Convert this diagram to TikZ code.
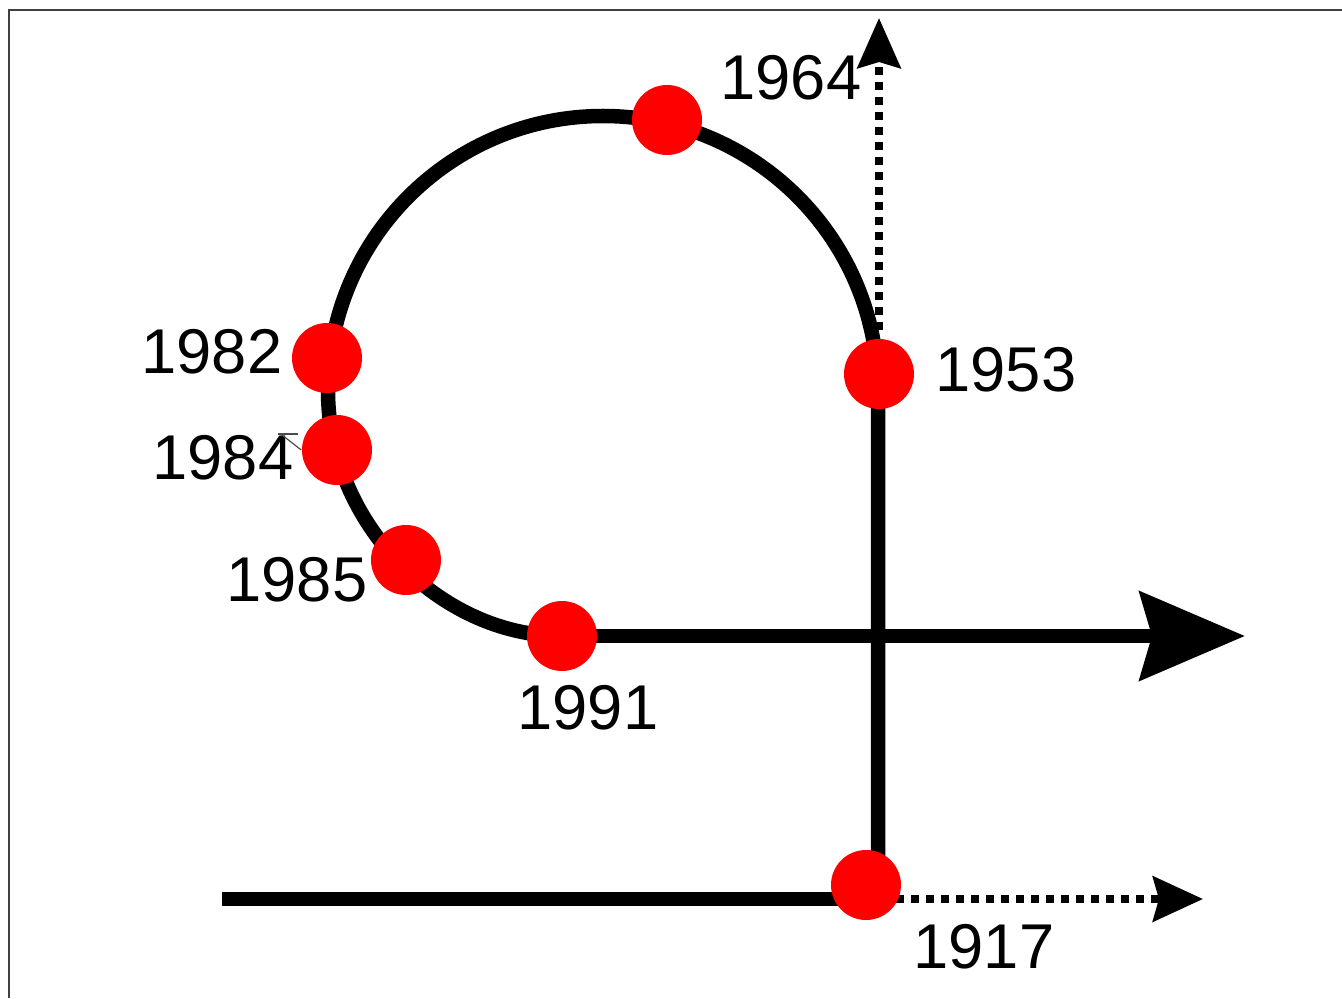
\documentclass[tikz,border=0pt]{standalone}
\usepackage{fontspec}
\setmainfont{Liberation Sans}
\usetikzlibrary{calc, positioning}
\usetikzlibrary{arrows.meta}

\tikzset{
  track/.style={line width=0.145cm},
  dotline/.style={line width=0.08cm, dash pattern=on 0.08cm off 0.07cm},
  dot/.style={circle, fill=red, minimum size=0.7cm, inner sep=0pt},
  year/.style={inner sep=0pt, font=\fontsize{18pt}{20pt}\selectfont},
}

\begin{document}
\begin{tikzpicture}
\useasboundingbox (0,0) rectangle (13.42,9.98);
\draw[black!75, line width=0.02cm] (0.09,0) -- (0.09,9.88) -- (13.42,9.88);

% positions of the years
\coordinate (p1917) at (8.66,1.13);
\coordinate (p1953) at (8.79,6.24);
\coordinate (p1964) at (6.67,8.78);
\coordinate (p1982) at (3.27,6.40);
\coordinate (p1984) at (3.37,5.48);
\coordinate (p1985) at (4.06,4.38);
\coordinate (p1991) at (5.62,3.62);
\coordinate (endmain) at (12.45,3.62);
\coordinate (endlow) at (12.03,0.99);
\coordinate (endup) at (8.79,9.80);
\coordinate (startlow) at (2.22,0.99);

% the loop
\draw[track] (8.78,1.13) -- (8.78,6.07) arc[start angle=0, end angle=180, radius=2.75]
  .. controls (3.28,4.75) and (4.40,3.62) .. (p1991);
\draw[track, -{Stealth[length=1.05cm, width=0.88cm, inset=0.12cm]}] (p1991) -- (endmain);
\draw[track] (startlow) -- (p1917 |- startlow);
\draw[dotline, -{Stealth[length=0.5cm, width=0.45cm, inset=0.06cm]}] (p1917 |- startlow) -- (endlow);
\draw[dotline, -{Stealth[length=0.5cm, width=0.43cm, inset=0.06cm]}] (8.79,6.68) -- (endup);

\foreach \yr in {1917,1953,1964,1982,1984,1985,1991} {
  \node[dot] (d\yr) at (p\yr) {};
}

\node[year] (l1917) at (9.84,0.51) {1917};
\node[year] (l1953) at (10.06,6.28) {1953};
\node[year] (l1964) at (7.91,9.20) {1964};
\node[year] (l1982) at (2.12,6.46) {1982};
\node[year] (l1984) at (2.23,5.40) {1984};
\node[year] (l1985) at (2.97,4.18) {1985};
\node[year] (l1991) at (5.88,2.90) {1991};

% small leader at 1984
\draw[black!70, line width=0.012cm] (2.78,5.64) -- (2.98,5.64);
\draw[black!70, line width=0.012cm] (2.82,5.63) -- (d1984.west);
\end{tikzpicture}
\end{document}
